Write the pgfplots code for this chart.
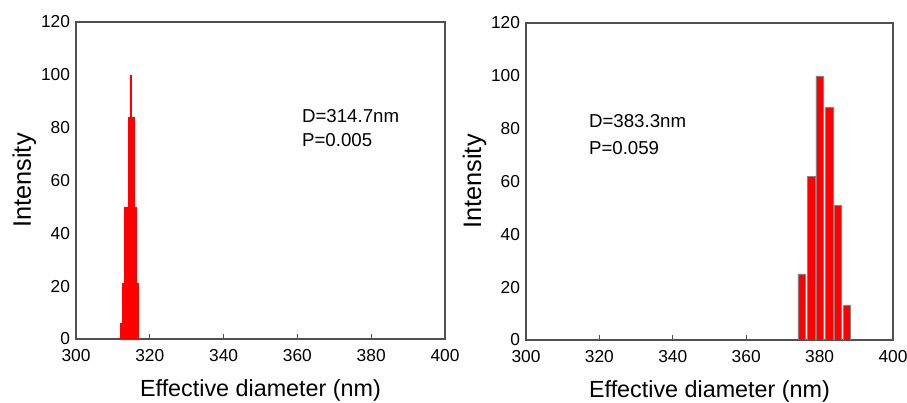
\documentclass[border=0pt]{standalone}
\usepackage{pgfplots}
\pgfplotsset{compat=1.18}
\usepackage{fontspec}
\setmainfont{Liberation Sans}
\definecolor{barred}{RGB}{255,0,0}
\definecolor{axgray}{RGB}{80,80,80}
\pgfplotsset{
  dls/.style={
    scale only axis,
    xmin=300, xmax=400, ymin=0, ymax=120,
    xtick={300,320,340,360,380,400},
    ytick={0,20,40,60,80,100,120},
    tick pos=bottom,
    ytick pos=left,
    xtick align=inside,
    major tick length=4pt,
    ytick style={draw=none},
    xtick style={draw=axgray, line width=0.8pt},
    axis line style={draw=axgray, line width=0.9pt},
    tick label style={font=\fontsize{13}{13}\selectfont},
    /pgf/number format/assume math mode=true,
    xticklabel style={yshift=-4pt},
    yticklabel style={xshift=-1pt},
    xlabel={Effective diameter (nm)},
    ylabel={Intensity},
    xlabel style={font=\fontsize{17.5}{17.5}\selectfont, at={(axis description cs:0.5,-0.162)}, anchor=center},
    ylabel style={font=\fontsize{19}{19}\selectfont, anchor=center},
  }
}
\begin{document}
\begin{tikzpicture}
\useasboundingbox (0,0) rectangle (680.25pt,302.25pt);
\begin{axis}[dls, at={(57pt,48pt)}, anchor=south west, width=276.75pt, height=237.75pt,
  ylabel style={at={(axis description cs:-0.14,0.5)}}]
\addplot[ybar interval, fill=barred, draw=barred] coordinates {
(312.0,6) (312.6,21) (313.2,50) (314.1,84) (314.6,100) (315.1,84) (315.7,50) (316.4,21) (317.0,21)};
\node[anchor=west, font=\fontsize{14}{14}\selectfont] at (axis cs:360,84.2) {D=314.7nm};
\node[anchor=west, font=\fontsize{14}{14}\selectfont] at (axis cs:360,75.3) {P=0.005};
\end{axis}
\begin{axis}[dls, at={(394.5pt,47.25pt)}, anchor=south west, width=275.25pt, height=237.75pt,
  ylabel style={at={(axis description cs:-0.14,0.5)}}]
\addplot[ybar, bar width=2.05, fill=barred, draw=axgray!70, line width=0.4pt] coordinates {
(375.1,25) (377.7,62) (380.0,100) (382.6,88) (384.9,51) (387.4,13)};
\node[anchor=west, font=\fontsize{14}{14}\selectfont] at (axis cs:315.9,82.9) {D=383.3nm};
\node[anchor=west, font=\fontsize{14}{14}\selectfont] at (axis cs:315.9,72.8) {P=0.059};
\end{axis}
\end{tikzpicture}
\end{document}
